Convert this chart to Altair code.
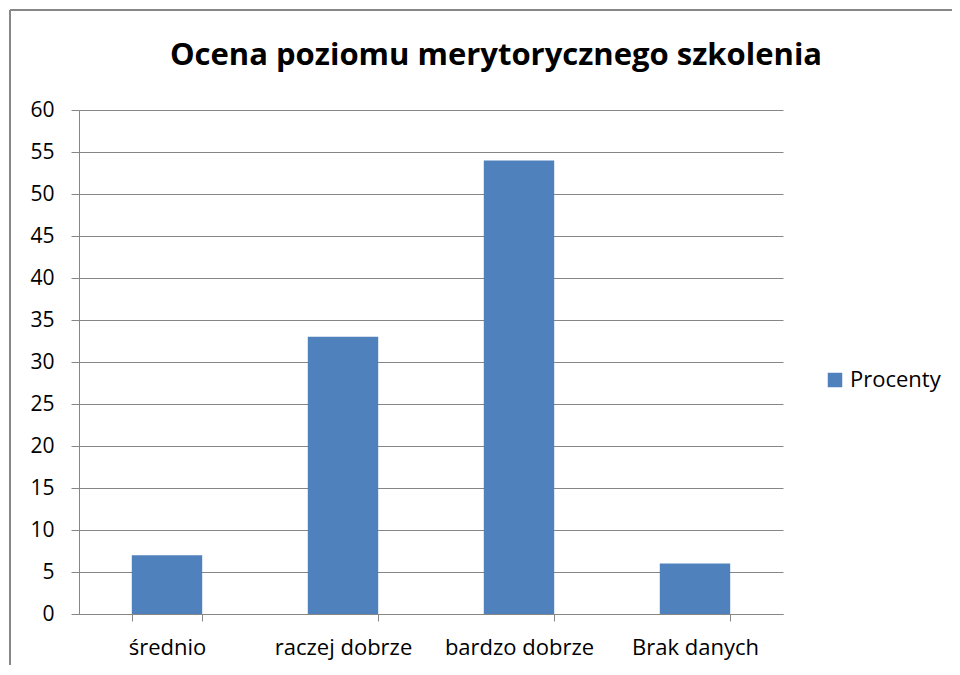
import altair as alt
import pandas as pd

categories = ["średnio", "raczej dobrze", "bardzo dobrze", "Brak danych"]
values = [7, 33, 54, 6]
series = ["Procenty"] * 4
y_ticks = list(range(0, 61, 5))

df = pd.DataFrame({"kategoria": categories, "wartosc": values, "seria": series})

FONT = "Open Sans"
GRID = "#868686"

bars = alt.Chart(df).mark_bar().encode(
    x=alt.X(
        "kategoria:N",
        sort=categories,
        scale=alt.Scale(paddingInner=0.6, paddingOuter=0.3),
        axis=alt.Axis(
            title=None, labelAngle=0, tickBand="extent", tickSize=7,
            tickColor=GRID, domainColor=GRID, labelFont=FONT, labelFontSize=22,
            labelColor="#000000", labelPadding=16, grid=False,
        ),
    ),
    y=alt.Y(
        "wartosc:Q",
        scale=alt.Scale(domain=[0, 60], nice=False),
        axis=alt.Axis(
            title=None, values=y_ticks, tickSize=8, tickColor=GRID,
            domainColor=GRID, gridColor=GRID, gridOpacity=1, labelFont=FONT,
            labelFontSize=21, labelColor="#000000", labelPadding=17,
        ),
    ),
    color=alt.Color(
        "seria:N",
        scale=alt.Scale(range=["#4F81BD"]),
        legend=alt.Legend(
            title=None, orient="none", legendX=745, legendY=259,
            symbolType="square", symbolSize=210, symbolStrokeWidth=0,
            labelFont=FONT, labelFontSize=22, labelColor="#000000",
            labelOffset=4,
        ),
    ),
)

border_top = alt.Chart(df).mark_rule(
    stroke="#878787", strokeWidth=2, clip=False
).encode(
    x=alt.value(-69), x2=alt.value(1000), y=alt.value(-100)
)
border_left = alt.Chart(df).mark_rule(
    stroke="#878787", strokeWidth=2, clip=False
).encode(
    x=alt.value(-69), y=alt.value(-100), y2=alt.value(700)
)

chart = alt.layer(border_top, border_left, bars).properties(
    width=704,
    height=504,
    title=alt.TitleParams(
        "Ocena poziomu merytorycznego szkolenia",
        font=FONT, fontSize=31, fontWeight="bold", color="#000000",
        anchor="middle", dx=65, offset=-63,
    ),
    autosize=alt.AutoSizeParams(type="none"),
    padding={"left": 71, "top": 102, "right": 169, "bottom": 51},
).configure_view(stroke=None)

chart.save("out.html", embed_options={"renderer": "svg", "actions": False})
